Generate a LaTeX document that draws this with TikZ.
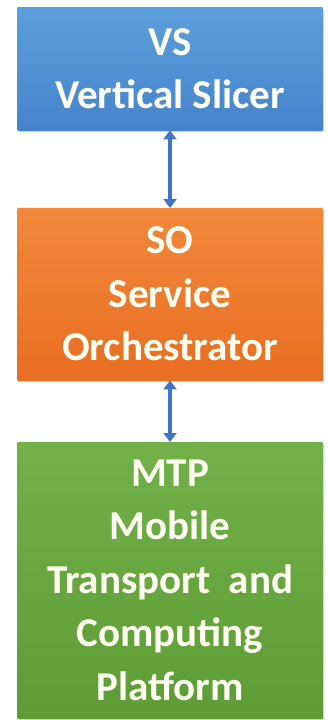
\documentclass[tikz,border=0pt]{standalone}
\usepackage{fontspec}
\setmainfont{Carlito}
\usetikzlibrary{shadows,arrows.meta}
\definecolor{bluetop}{HTML}{5D9EDC}
\definecolor{bluebot}{HTML}{4584CC}
\definecolor{ortop}{HTML}{F2883A}
\definecolor{orbot}{HTML}{E86E22}
\definecolor{grtop}{HTML}{72B04A}
\definecolor{grbot}{HTML}{5E9C36}
\definecolor{arrowblue}{HTML}{4472C4}
\definecolor{txt}{HTML}{FFFFF2}
\tikzset{
  box/.style={rectangle, minimum width=305pt, inner sep=0pt, text=txt,
    font=\fontsize{41}{53.5}\selectfont\bfseries, align=center, anchor=north,
    drop shadow={opacity=0.35, shadow xshift=1.5pt, shadow yshift=-2pt}},
  link/.style={arrowblue, line width=3.5pt, {Triangle[length=9pt,width=13pt]}-{Triangle[length=9pt,width=13pt]}}
}
\begin{document}
\begin{tikzpicture}[x=1pt,y=-1pt]
\useasboundingbox (0,0) rectangle (327,720);
\node[box, minimum height=123pt, top color=bluetop, bottom color=bluebot] (vs) at (170,7) {VS\\Vertical Slicer};
\node[box, minimum height=172pt, top color=ortop, bottom color=orbot] (so) at (170,208) {SO\\Service\\Orchestrator};
\node[box, minimum height=276pt, top color=grtop, bottom color=grbot] (mtp) at (170,442) {MTP\\Mobile\\Transport\hspace{0.45em}and\\Computing\\Platform};
\draw[link] (vs.south) -- (so.north);
\draw[link] (so.south) -- (mtp.north);
\end{tikzpicture}
\end{document}
